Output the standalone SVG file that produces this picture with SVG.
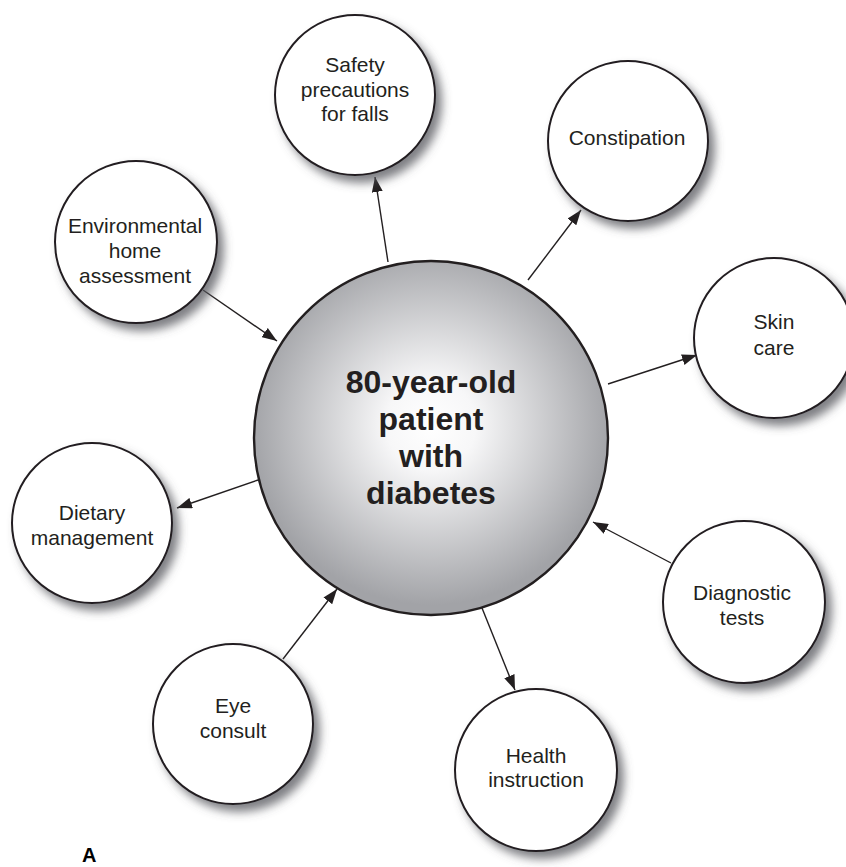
<svg xmlns="http://www.w3.org/2000/svg" width="846" height="867" viewBox="0 0 846 867">
  <style>
    .sat { fill: #ffffff; stroke: #231f20; stroke-width: 2; filter: url(#shadow); }
    .hub { fill: url(#hubFill); stroke: #231f20; stroke-width: 2.4; }
    .lbl { font-family: "Liberation Sans", Arial, sans-serif; font-size: 21px; fill: #231f20; text-anchor: middle; }
    .hubLbl { font-family: "Liberation Sans", Arial, sans-serif; font-size: 32px; font-weight: bold; fill: #231f20; text-anchor: middle; }
    .edge { stroke: #231f20; stroke-width: 1.4; fill: none; marker-end: url(#arrow); }
    .tag { font-family: "Liberation Sans", Arial, sans-serif; font-size: 20px; font-weight: bold; fill: #000000; }
  </style>
  <defs>
    <filter id="shadow" x="-30%" y="-30%" width="170%" height="170%">
      <feGaussianBlur in="SourceAlpha" stdDeviation="5"/>
      <feOffset dx="6" dy="7" result="blur"/>
      <feFlood flood-color="#55565c" flood-opacity="0.75"/>
      <feComposite in2="blur" operator="in"/>
      <feMerge>
        <feMergeNode/>
        <feMergeNode in="SourceGraphic"/>
      </feMerge>
    </filter>
    <radialGradient id="hubFill" cx="431" cy="425" r="180" gradientUnits="userSpaceOnUse">
      <stop offset="0" stop-color="#ffffff"/>
      <stop offset="0.25" stop-color="#f7f7f8"/>
      <stop offset="1" stop-color="#a2a3a7"/>
    </radialGradient>
    <marker id="arrow" markerUnits="userSpaceOnUse" markerWidth="15" markerHeight="11" refX="15" refY="5.5" orient="auto">
      <path d="M0,0 L15,5.5 L0,11 z" fill="#231f20"/>
    </marker>
  </defs>

  <g id="connectors">
    <line class="edge" x1="388" y1="262" x2="375" y2="177"/>
    <line class="edge" x1="528" y1="280" x2="581" y2="210"/>
    <line class="edge" x1="203" y1="290" x2="277" y2="341"/>
    <line class="edge" x1="608" y1="384" x2="697" y2="355"/>
    <line class="edge" x1="258" y1="480" x2="177" y2="508"/>
    <line class="edge" x1="671" y1="563" x2="593" y2="522"/>
    <line class="edge" x1="283" y1="659" x2="337" y2="589"/>
    <line class="edge" x1="482" y1="608" x2="515" y2="690"/>
  </g>

  <g id="hub">
    <circle class="hub" cx="431" cy="438" r="177"/>
    <text class="hubLbl" x="431" y="393">80-year-old</text>
    <text class="hubLbl" x="431" y="430">patient</text>
    <text class="hubLbl" x="431" y="467">with</text>
    <text class="hubLbl" x="431" y="504">diabetes</text>
  </g>

  <g id="safety">
    <circle class="sat" cx="355" cy="95" r="80"/>
    <text class="lbl" x="355" y="72">Safety</text>
    <text class="lbl" x="355" y="97">precautions</text>
    <text class="lbl" x="355" y="121">for falls</text>
  </g>

  <g id="constipation">
    <circle class="sat" cx="628" cy="141" r="80"/>
    <text class="lbl" x="627" y="145">Constipation</text>
  </g>

  <g id="environmental">
    <circle class="sat" cx="136" cy="242" r="81"/>
    <text class="lbl" x="135" y="233">Environmental</text>
    <text class="lbl" x="135" y="258">home</text>
    <text class="lbl" x="135" y="283">assessment</text>
  </g>

  <g id="skin-care">
    <circle class="sat" cx="774" cy="338" r="80"/>
    <text class="lbl" x="774" y="329">Skin</text>
    <text class="lbl" x="774" y="355">care</text>
  </g>

  <g id="dietary">
    <circle class="sat" cx="92" cy="523" r="80"/>
    <text class="lbl" x="92" y="520">Dietary</text>
    <text class="lbl" x="92" y="545">management</text>
  </g>

  <g id="diagnostic">
    <circle class="sat" cx="744" cy="602" r="81"/>
    <text class="lbl" x="742" y="600">Diagnostic</text>
    <text class="lbl" x="742" y="625">tests</text>
  </g>

  <g id="eye-consult">
    <circle class="sat" cx="233" cy="724" r="80"/>
    <text class="lbl" x="233" y="713">Eye</text>
    <text class="lbl" x="233" y="738">consult</text>
  </g>

  <g id="health-instruction">
    <circle class="sat" cx="536" cy="770" r="81"/>
    <text class="lbl" x="536" y="763">Health</text>
    <text class="lbl" x="536" y="787">instruction</text>
  </g>

  <text class="tag" x="82" y="862">A</text>
</svg>
